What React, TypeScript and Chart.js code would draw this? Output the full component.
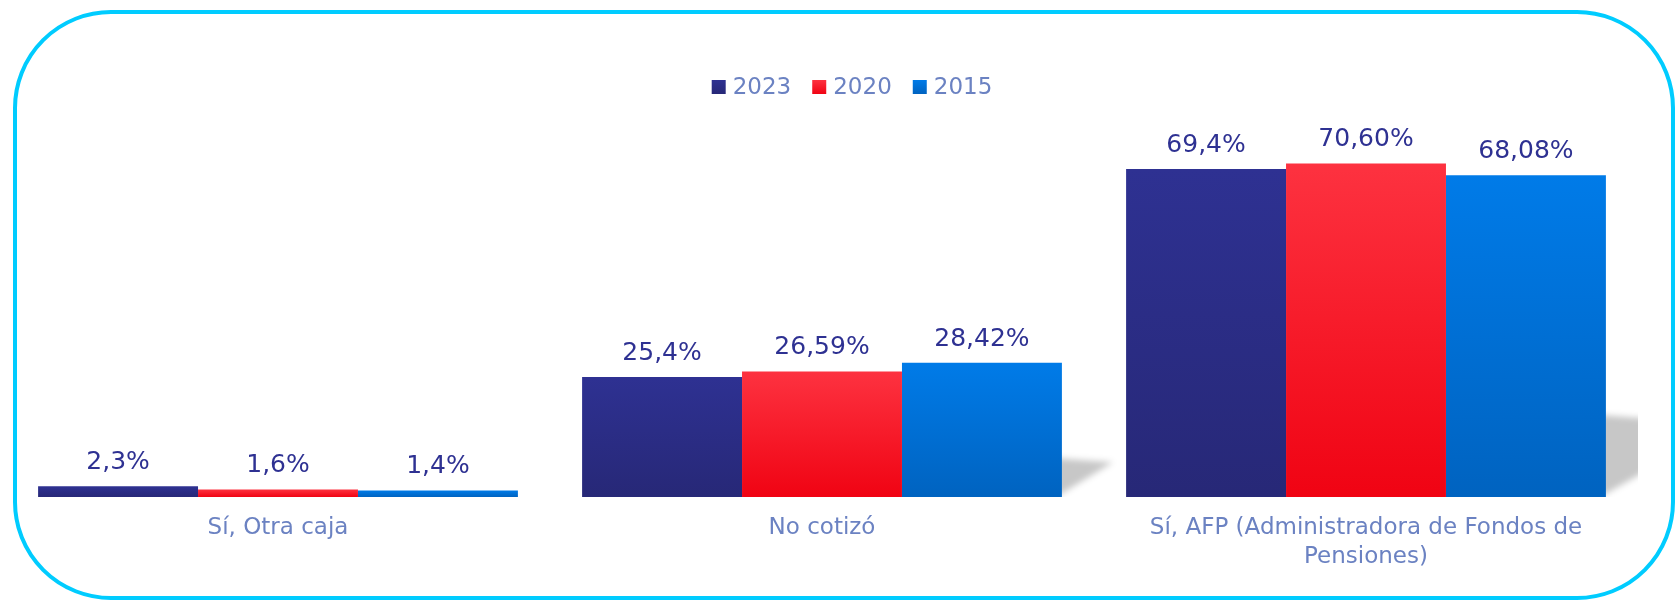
import { useEffect, useRef } from "react";
import Chart from "chart.js/auto";
import type { Plugin, ScriptableContext } from "chart.js";

const categories = [
  "Sí, Otra caja",
  "No cotizó",
  ["Sí, AFP (Administradora de Fondos de", "Pensiones)"],
];
const years = ["2023", "2020", "2015"];
const values2023 = [2.3, 25.4, 69.4];
const values2020 = [1.6, 26.59, 70.6];
const values2015 = [1.4, 28.42, 68.08];
const labels2023 = ["2,3%", "25,4%", "69,4%"];
const labels2020 = ["1,6%", "26,59%", "70,60%"];
const labels2015 = ["1,4%", "28,42%", "68,08%"];

const FONT = "DejaVu Sans";
const LABEL_COLOR = "#2E3192";
const AXIS_COLOR = "#6B82C2";

// top / bottom colours of each series' vertical gradient
const SERIES_COLORS: [string, string][] = [
  ["#2E3192", "#272877"],
  ["#FD3240", "#F00313"],
  ["#007BE8", "#0063C0"],
];
const SERIES_LABELS = [labels2023, labels2020, labels2015];

function barGradient(series: number) {
  const [top, bottom] = SERIES_COLORS[series];
  return (ctx: ScriptableContext<"bar">) => {
    const { chart } = ctx;
    const y = chart.scales.y;
    if (ctx.type !== "data" || !chart.chartArea || !y) return top;
    const y0 = y.getPixelForValue(Number(ctx.raw));
    const y1 = y.getPixelForValue(0);
    if (!Number.isFinite(y0) || y1 - y0 < 1) return top;
    const g = chart.ctx.createLinearGradient(0, y0, 0, y1);
    g.addColorStop(0, top);
    g.addColorStop(1, bottom);
    return g;
  };
}

// soft perspective shadow to the right of each group's last bar
const barShadowPlugin: Plugin<"bar"> = {
  id: "bar-shadow",
  beforeDatasetsDraw(chart) {
    const { ctx, chartArea } = chart;
    const meta = chart.getDatasetMeta(chart.data.datasets.length - 1);
    ctx.save();
    ctx.beginPath();
    ctx.rect(chartArea.left, chartArea.top, chartArea.right - chartArea.left, chartArea.bottom - chartArea.top);
    ctx.clip();
    ctx.filter = "blur(3px)";
    ctx.fillStyle = "rgba(0,0,0,0.22)";
    meta.data.forEach((element) => {
      const bar = element as unknown as { x: number; y: number; base: number; width: number };
      const h = bar.base - bar.y;
      if (h < 20) return;
      const right = bar.x + bar.width / 2;
      const top = bar.base - (0.23 * h + 8);
      ctx.beginPath();
      ctx.moveTo(right - 6, bar.base);
      ctx.lineTo(right - 6, top);
      ctx.lineTo(right + 0.38 * h, top + 0.03 * h);
      ctx.closePath();
      ctx.fill();
    });
    ctx.restore();
  },
};

const valueLabelPlugin: Plugin<"bar"> = {
  id: "value-labels",
  afterDatasetsDraw(chart) {
    const { ctx } = chart;
    ctx.save();
    ctx.font = `25px "${FONT}"`;
    ctx.fillStyle = LABEL_COLOR;
    ctx.textAlign = "center";
    ctx.textBaseline = "alphabetic";
    chart.data.datasets.forEach((_dataset, datasetIndex) => {
      const meta = chart.getDatasetMeta(datasetIndex);
      meta.data.forEach((element, index) => {
        const point = element as unknown as { x: number; y: number };
        ctx.fillText(SERIES_LABELS[datasetIndex][index], point.x, point.y - 17);
      });
    });
    ctx.restore();
  },
};

// legend row: small square + year, centred over the plot
const legendPlugin: Plugin<"bar"> = {
  id: "legend-row",
  afterDraw(chart) {
    const { ctx } = chart;
    const box = 14;
    const gap = 7;
    const itemGap = 21;
    const centerX = 852;
    const centerY = 87;
    ctx.save();
    ctx.font = `23px "${FONT}"`;
    const widths = years.map((t) => ctx.measureText(t).width);
    const total = widths.reduce((s, w) => s + box + gap + w, 0) + itemGap * (years.length - 1);
    let x = centerX - total / 2;
    years.forEach((year, i) => {
      const [top, bottom] = SERIES_COLORS[i];
      const g = ctx.createLinearGradient(0, centerY - box / 2, 0, centerY + box / 2);
      g.addColorStop(0, top);
      g.addColorStop(1, bottom);
      ctx.fillStyle = g;
      ctx.fillRect(x, centerY - box / 2, box, box);
      x += box + gap;
      ctx.fillStyle = AXIS_COLOR;
      ctx.textAlign = "left";
      ctx.textBaseline = "middle";
      ctx.fillText(year, x, centerY + 1);
      x += widths[i] + itemGap;
    });
    ctx.restore();
  },
};

function BarChart() {
  const canvasRef = useRef<HTMLCanvasElement | null>(null);

  useEffect(() => {
    const canvas = canvasRef.current;
    if (!canvas) return;
    const seriesValues = [values2023, values2020, values2015];
    const chart = new Chart(canvas, {
      type: "bar",
      data: {
        labels: categories,
        datasets: years.map((year, i) => ({
          label: year,
          data: seriesValues[i],
          backgroundColor: barGradient(i),
          borderWidth: 0,
          barPercentage: 1,
          categoryPercentage: 0.882,
        })),
      },
      plugins: [barShadowPlugin, valueLabelPlugin, legendPlugin],
      options: {
        responsive: true,
        maintainAspectRatio: false,
        animation: false,
        layout: { padding: { left: 6, right: 38, top: 119, bottom: 13 } },
        plugins: {
          legend: { display: false },
          tooltip: { enabled: false },
        },
        scales: {
          x: {
            grid: { display: false, drawTicks: false },
            border: { display: false },
            ticks: {
              color: AXIS_COLOR,
              font: { family: FONT, size: 23, lineHeight: 1.26 },
              padding: 17,
              maxRotation: 0,
              autoSkip: false,
            },
          },
          y: {
            display: false,
            min: 0,
            max: 80,
          },
        },
      },
    });
    return () => chart.destroy();
  }, []);

  return <canvas ref={canvasRef} role="img" aria-label="Cotización por año" />;
}

export default function App() {
  return (
    <div style={{ position: "absolute", left: 0, top: 0, width: 1676, height: 602, background: "#fff" }}>
      <BarChart />
      <div
        style={{
          position: "absolute",
          left: 13,
          top: 10,
          width: 1662,
          height: 590,
          boxSizing: "border-box",
          border: "4px solid #00CCFF",
          borderRadius: 98,
          pointerEvents: "none",
        }}
      />
    </div>
  );
}
